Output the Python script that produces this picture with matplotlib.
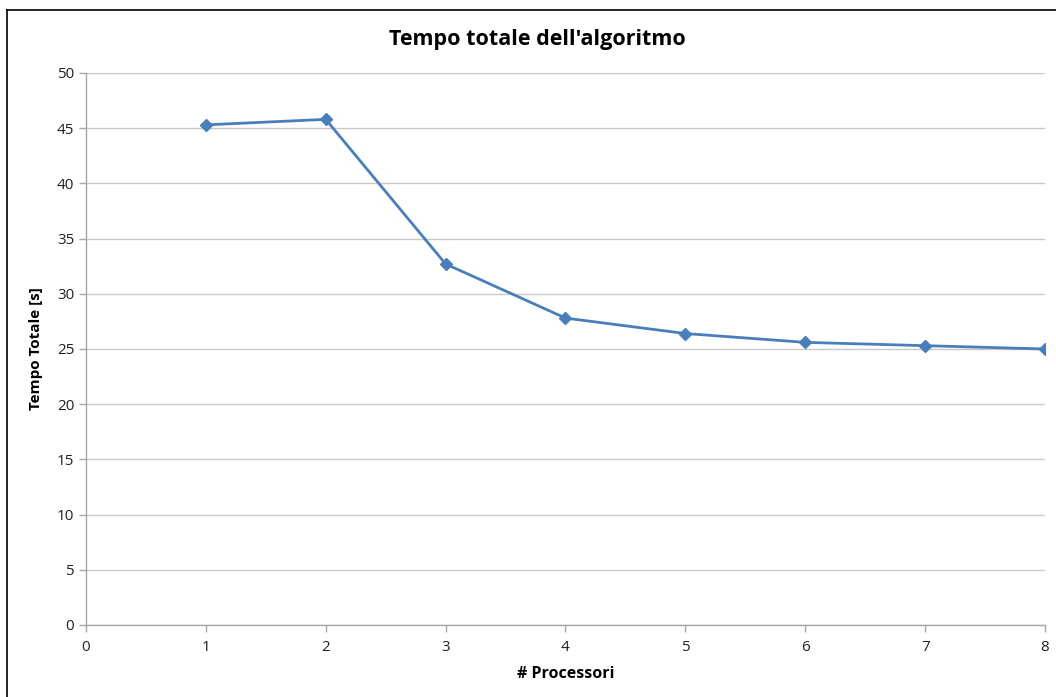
import matplotlib
matplotlib.use("Agg")
import matplotlib.pyplot as plt
from matplotlib.lines import Line2D

# dati
processori = [1, 2, 3, 4, 5, 6, 7, 8]
tempo_totale = [45.3, 45.8, 32.7, 27.8, 26.4, 25.6, 25.3, 25.0]
x_ticks = list(range(0, 9))
y_ticks = list(range(0, 51, 5))

plt.rcParams['font.family'] = ['Open Sans', 'DejaVu Sans']

fig = plt.figure(figsize=(10.56, 6.97), dpi=100)
ax = fig.add_axes([0.0814, 0.1033, 0.9896 - 0.0814, 0.8953 - 0.1033])

ax.plot(processori, tempo_totale, color='#4A7EBB', linewidth=2.0,
        marker='D', markersize=6.5, markeredgecolor='#4A7EBB', zorder=3)

ax.set_xlim(0, 8)
ax.set_ylim(0, 50)
ax.set_xticks(x_ticks)
ax.set_yticks(y_ticks)
ax.grid(axis='y', color='#C8C8C8', linewidth=1.0)
ax.set_axisbelow(True)

for side in ['top', 'right']:
    ax.spines[side].set_visible(False)
for side in ['left', 'bottom']:
    ax.spines[side].set_color('#A6A6A6')
    ax.spines[side].set_linewidth(1.0)

ax.tick_params(axis='both', colors='#A6A6A6', labelcolor='#222222',
               labelsize=11, length=5, width=1)
ax.tick_params(axis='x', pad=6)

# titolo centrato sulla figura, non sugli assi
fig.text(537 / 1056, 1 - 40 / 697, "Tempo totale dell'algoritmo",
         fontsize=15.5, fontweight='bold', ha='center', va='center')
ax.set_xlabel('# Processori', fontsize=11.5, fontweight='bold', labelpad=8)
ax.set_ylabel('Tempo Totale [s]', fontsize=11, fontweight='bold', labelpad=10)

# bordo del riquadro (solo sinistra e alto visibili)
fig.add_artist(Line2D([7 / 1056, 7 / 1056], [0, 1 - 10 / 697],
                      transform=fig.transFigure, color='black', linewidth=1.2))
fig.add_artist(Line2D([7 / 1056, 1], [1 - 10 / 697, 1 - 10 / 697],
                      transform=fig.transFigure, color='black', linewidth=1.2))

fig.savefig('out.png', dpi=100)
